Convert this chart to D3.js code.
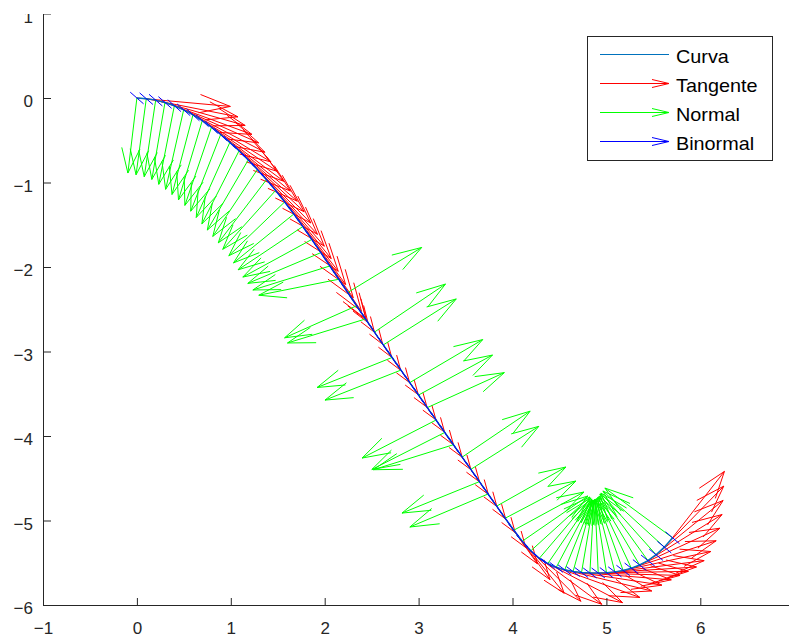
<!DOCTYPE html>
<html><head><meta charset="utf-8">
<script src="https://cdn.jsdelivr.net/npm/d3@7"></script>
<style>body{margin:0;background:#fff} svg{display:block}</style>
</head><body>
<svg id="c" width="789" height="639"></svg>
<script>
// ---- data ----
const curveX = [0,0.1,0.2,0.299,0.399,0.498,0.597,0.696,0.794,0.892,0.99,1.088,1.186,1.283,1.38,1.477,1.574,1.671,1.767,1.863,1.959,2.055,2.15,2.245,2.34,2.435,2.53,2.624,2.718,2.812,2.906,2.999,3.093,3.186,3.279,3.371,3.464,3.556,3.648,3.74,3.831,3.922,4.014,4.104,4.195,4.286,4.376,4.466,4.556,4.645,4.735,4.824,4.913,5.001,5.09,5.178,5.266,5.354,5.442,5.529,5.617,5.704];
const curveY = [0,-0.008,-0.025,-0.053,-0.091,-0.14,-0.199,-0.268,-0.346,-0.432,-0.525,-0.625,-0.733,-0.846,-0.966,-1.094,-1.23,-1.373,-1.521,-1.674,-1.83,-1.988,-2.145,-2.302,-2.459,-2.615,-2.77,-2.922,-3.071,-3.22,-3.368,-3.515,-3.664,-3.811,-3.958,-4.103,-4.25,-4.395,-4.54,-4.686,-4.83,-4.973,-5.115,-5.245,-5.359,-5.447,-5.51,-5.554,-5.584,-5.604,-5.616,-5.621,-5.621,-5.617,-5.608,-5.591,-5.565,-5.527,-5.474,-5.405,-5.315,-5.204];
const tanU = [0.995,0.976,0.953,0.926,0.898,0.865,0.831,0.8,0.769,0.743,0.718,0.693,0.666,0.64,0.616,0.592,0.57,0.552,0.537,0.528,0.48,0.389,0.311,0.285,0.278,0.278,0.279,0.28,0.279,0.278,0.279,0.278,0.279,0.278,0.279,0.278,0.279,0.278,0.28,0.289,0.31,0.344,0.385,0.446,0.533,0.665,0.796,0.891,0.927,0.946,0.956,0.96,0.96,0.958,0.951,0.934,0.903,0.855,0.79,0.714,0.633,0.553];
const tanV = [-0.1,-0.215,-0.3,-0.378,-0.44,-0.502,-0.557,-0.6,-0.639,-0.669,-0.696,-0.721,-0.746,-0.768,-0.788,-0.806,-0.821,-0.834,-0.843,-0.85,-0.786,-0.642,-0.513,-0.47,-0.456,-0.453,-0.452,-0.446,-0.441,-0.44,-0.441,-0.44,-0.441,-0.44,-0.441,-0.44,-0.441,-0.44,-0.443,-0.457,-0.49,-0.54,-0.585,-0.616,-0.597,-0.545,-0.462,-0.357,-0.25,-0.161,-0.086,-0.029,0.019,0.067,0.133,0.224,0.325,0.436,0.545,0.642,0.722,0.785];
const norU = [-0.096,-0.109,-0.122,-0.14,-0.166,-0.192,-0.223,-0.253,-0.283,-0.319,-0.358,-0.396,-0.436,-0.475,-0.513,-0.563,-0.595,-0.642,-0.689,-0.735,-0.778,-0.82,-0.852,0.788,-0.767,-0.831,0.756,0.777,-0.799,-0.809,0.777,0.788,0.82,-0.788,-0.777,-0.852,0.724,0.724,-0.825,-0.833,0.738,0.753,0.747,0.699,0.629,0.548,0.47,0.379,0.3,0.211,0.132,0.043,-0.035,-0.124,-0.202,-0.279,-0.357,-0.433,-0.511,-0.588,-0.654,-0.72];
const norV = [-0.888,-0.901,-0.907,-0.911,-0.931,-0.941,-0.943,-0.938,-0.925,-0.908,-0.889,-0.864,-0.83,-0.792,-0.748,-0.697,-0.637,-0.578,-0.512,-0.445,-0.364,-0.284,-0.189,0.533,-0.379,-0.284,0.568,0.544,-0.355,-0.355,0.509,0.473,0.414,-0.45,-0.438,-0.296,0.544,0.509,-0.372,-0.391,0.463,0.44,0.452,0.535,0.637,0.714,0.765,0.796,0.826,0.846,0.859,0.864,0.864,0.871,0.863,0.857,0.843,0.817,0.787,0.73,0.664,0.588];
const binU = [0.071,0.071,0.071,0.07,0.07,0.07,0.069,0.068,0.067,0.066,0.065,0.063,0.061,0.059,0.057,0.055,0.052,0.05,0.049,0.048,0.048,0.048,0.048,0.048,0.048,0.048,0.048,0.048,0.048,0.048,0.048,0.048,0.048,0.048,0.048,0.048,0.048,0.048,0.048,0.049,0.05,0.052,0.055,0.06,0.065,0.069,0.071,0.071,0.071,0.071,0.071,0.071,0.071,0.071,0.071,0.071,0.072,0.072,0.073,0.073,0.074,0.075];
const binV = [-0.069,-0.069,-0.069,-0.069,-0.07,-0.07,-0.071,-0.072,-0.073,-0.074,-0.075,-0.076,-0.077,-0.078,-0.079,-0.08,-0.081,-0.082,-0.083,-0.083,-0.083,-0.083,-0.083,-0.083,-0.083,-0.083,-0.083,-0.083,-0.083,-0.083,-0.083,-0.083,-0.083,-0.083,-0.083,-0.083,-0.083,-0.083,-0.083,-0.082,-0.08,-0.077,-0.073,-0.068,-0.064,-0.061,-0.059,-0.059,-0.059,-0.059,-0.059,-0.059,-0.059,-0.06,-0.06,-0.061,-0.062,-0.064,-0.065,-0.067,-0.069,-0.071];
const xTicks = [-1,0,1,2,3,4,5,6,7];
const yTicks = [-6,-5,-4,-3,-2,-1,0,1];
const legendLabels = ["Curva","Tangente","Normal","Binormal"];
const legendColors = ["#0072BD","#FF0000","#00FF00","#0000FF"];

// ---- drawing ----
const svg = d3.select("#c");
const FONT = "'Liberation Sans', Arial, Helvetica, sans-serif";
const x = d3.scaleLinear().domain([-1,7]).range([43,794.2]);
const y = d3.scaleLinear().domain([-6,1]).range([605,13.5]);
const idx = d3.range(curveX.length);

function arrow(x0,y0,u,v){
  const alpha=0.33,beta=0.33;
  const tx=x0+u, ty=y0+v;
  const p1=[tx-alpha*(u+beta*v), ty-alpha*(v-beta*u)];
  const p2=[tx-alpha*(u-beta*v), ty-alpha*(v+beta*u)];
  return `M${x(x0)},${y(y0)}L${x(tx)},${y(ty)}M${x(p1[0])},${y(p1[1])}L${x(tx)},${y(ty)}L${x(p2[0])},${y(p2[1])}`;
}

const plot = svg.append("g").attr("fill","none");
plot.append("g").selectAll("path").data(idx).join("path")
  .attr("d",i=>arrow(curveX[i],curveY[i],tanU[i],tanV[i]))
  .attr("stroke","#FF0000").attr("stroke-width",1);
plot.append("g").selectAll("path").data(idx).join("path")
  .attr("d",i=>arrow(curveX[i],curveY[i],norU[i],norV[i]))
  .attr("stroke","#00FF00").attr("stroke-width",1);
plot.append("path").datum(idx)
  .attr("d",d3.line().x(i=>x(curveX[i])).y(i=>y(curveY[i])))
  .attr("stroke","#0072BD").attr("stroke-width",1.5);
plot.append("g").selectAll("path").data(idx).join("path")
  .attr("d",i=>`M${x(curveX[i]-binU[i])},${y(curveY[i]-binV[i])}L${x(curveX[i]+binU[i])},${y(curveY[i]+binV[i])}`)
  .attr("stroke","#0000FF").attr("stroke-width",1);

// axes
const fmt = d3.format("d");
const yAxis = svg.append("g").attr("transform","translate(43,0)")
  .call(d3.axisLeft(y).tickValues(yTicks).tickFormat(fmt).tickSizeInner(-8).tickSizeOuter(0).tickPadding(10));
const xAxis = svg.append("g").attr("transform","translate(0,605)")
  .call(d3.axisBottom(x).tickValues(xTicks).tickFormat(fmt).tickSizeInner(-7).tickSizeOuter(0).tickPadding(17));
[yAxis,xAxis].forEach(a=>{
  a.selectAll("path,line").attr("stroke","#262626").attr("stroke-width",1);
  a.selectAll("text").attr("fill","#262626").style("font-family",FONT).style("font-size","17px");
});
yAxis.selectAll("text").attr("dy","0.5em");

// mask top (figure is cropped there)
svg.append("rect").attr("x",0).attr("y",0).attr("width",789).attr("height",14).attr("fill","#fff");

// legend
const lg = svg.append("g");
lg.append("rect").attr("x",587.5).attr("y",36.5).attr("width",185).attr("height",124)
  .attr("fill","#fff").attr("stroke","#262626").attr("stroke-width",1);
legendLabels.forEach((lab,i)=>{
  const yy = 54.5 + i*29;
  let d = `M600,${yy}L669,${yy}`;
  if(i>0) d += `M652,${yy-4}L669,${yy}L652,${yy+4}`;
  lg.append("path").attr("d",d).attr("fill","none").attr("stroke",legendColors[i]).attr("stroke-width",1);
  lg.append("text").attr("x",676).attr("y",yy+8).text(lab)
    .style("font-family",FONT).style("font-size","18.5px").attr("fill","#000")
    .attr("class","lgt");
});
svg.selectAll("text.lgt").each(function(){
  const L=this.getComputedTextLength();
  d3.select(this).attr("textLength",L*1.07).attr("lengthAdjust","spacingAndGlyphs");
});
</script>
</body></html>
